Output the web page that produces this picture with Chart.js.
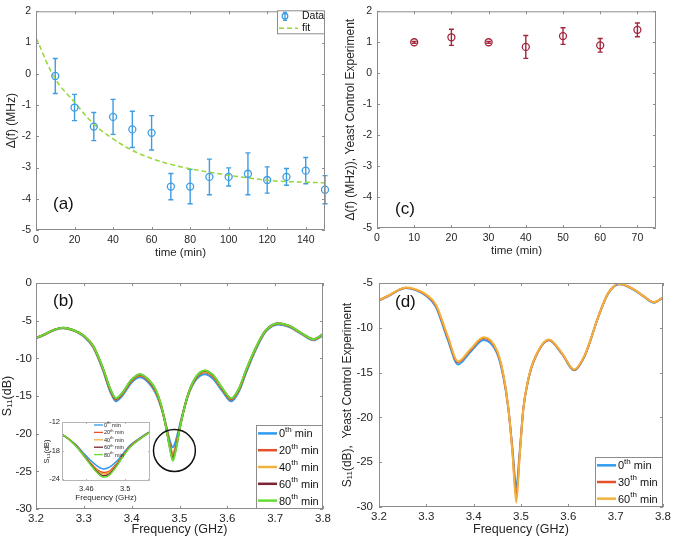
<!DOCTYPE html>
<html>
<head>
<meta charset="utf-8">
<title>Yeast S11 panels</title>
<script src="https://cdn.jsdelivr.net/npm/chart.js"></script>
<style>
  body { margin: 0; background: #fff; }
  #wrap { position: relative; width: 674px; height: 540px; }
  canvas { position: absolute; }
</style>
</head>
<body>
<div id="wrap">
  <canvas id="chartA" width="337" height="270" style="left:0;top:0"></canvas>
  <canvas id="chartC" width="337" height="270" style="left:337px;top:0"></canvas>
  <canvas id="chartB" width="337" height="270" style="left:0;top:270px"></canvas>
  <canvas id="chartD" width="337" height="270" style="left:337px;top:270px"></canvas>
  <canvas id="chartIn" width="120" height="95" style="left:38px;top:412px"></canvas>
</div>

<script>
// ---- panel (a): frequency shift vs time ----
const aTime = [10, 20, 30, 40, 50, 60, 70, 80, 90, 100, 110, 120, 130, 140, 150];
const aShift = [-0.07, -1.08, -1.69, -1.38, -1.78, -1.89, -3.61, -3.61, -3.3, -3.3, -3.2, -3.4, -3.3, -3.1, -3.71];
const aErr = [0.56, 0.42, 0.45, 0.56, 0.58, 0.55, 0.42, 0.55, 0.57, 0.29, 0.67, 0.42, 0.27, 0.42, 0.45];
const aFitTime = [0, 10, 20, 30, 40, 50, 60, 70, 80, 90, 100, 110, 120, 130, 140, 150];
const aFit = [1.15, -0.16, -0.91, -1.61, -2.08, -2.45, -2.71, -2.9, -3.04, -3.15, -3.25, -3.33, -3.41, -3.45, -3.47, -3.49];
const aTicksX = [0, 20, 40, 60, 80, 100, 120, 140];
const aTicksY = [-5, -4, -3, -2, -1, 0, 1, 2];

// ---- panel (c): yeast control ----
const cTime = [10, 20, 30, 40, 50, 60, 70];
const cShift = [1.0, 1.16, 1.0, 0.85, 1.2, 0.9, 1.4];
const cErr = [0.03, 0.26, 0.03, 0.37, 0.27, 0.22, 0.22];
const cTicksX = [0, 10, 20, 30, 40, 50, 60, 70];
const cTicksY = [-5, -4, -3, -2, -1, 0, 1, 2];

// ---- panel (b): S11 during experiment ----
const bLabels = ['0', '20', '40', '60', '80'];
const bColors = ['#2f9bf0', '#e5502a', '#f2b13a', '#7a2434', '#66dc34'];
const bFreq = [3.2, 3.22, 3.24, 3.257, 3.28, 3.3, 3.32, 3.34, 3.355, 3.367, 3.38, 3.4, 3.417, 3.435, 3.45, 3.462, 3.472, 3.48, 3.486, 3.492, 3.5, 3.51, 3.52, 3.535, 3.553, 3.57, 3.59, 3.608, 3.625, 3.64, 3.66, 3.68, 3.707, 3.73, 3.755, 3.78, 3.8];
const bMin0 = [-7.35, -6.8, -6.2, -6.0, -6.35, -7.1, -8.6, -11.6, -14.4, -15.7, -15.0, -13.2, -12.5, -13.2, -14.6, -16.6, -18.9, -21.0, -21.8, -21.0, -19.0, -16.6, -14.6, -12.8, -12.1, -12.7, -14.4, -15.7, -14.3, -11.8, -8.8, -6.5, -5.5, -5.85, -6.8, -7.6, -6.95];
const bMin20 = [-7.32, -6.77, -6.17, -5.97, -6.32, -7.05, -8.5, -11.45, -14.2, -15.5, -14.8, -13.0, -12.3, -13.0, -14.4, -16.5, -19.0, -21.5, -22.7, -21.7, -19.3, -16.6, -14.5, -12.6, -11.85, -12.45, -14.2, -15.5, -14.1, -11.6, -8.65, -6.4, -5.42, -5.77, -6.72, -7.52, -6.87];
const bMin40 = [-7.32, -6.76, -6.16, -5.96, -6.31, -7.03, -8.45, -11.4, -14.1, -15.4, -14.7, -12.9, -12.2, -12.9, -14.3, -16.4, -19.1, -21.7, -23.0, -21.9, -19.4, -16.6, -14.45, -12.5, -11.75, -12.35, -14.1, -15.4, -14.0, -11.5, -8.6, -6.35, -5.38, -5.73, -6.68, -7.48, -6.83];
const bMin60 = [-7.3, -6.75, -6.15, -5.95, -6.3, -7.0, -8.4, -11.35, -14.05, -15.35, -14.65, -12.85, -12.15, -12.85, -14.2, -16.35, -19.15, -21.85, -23.3, -22.1, -19.45, -16.6, -14.4, -12.45, -11.65, -12.25, -14.05, -15.35, -13.95, -11.45, -8.55, -6.3, -5.35, -5.7, -6.65, -7.45, -6.8];
const bMin80 = [-7.3, -6.75, -6.15, -5.95, -6.3, -7.0, -8.4, -11.3, -14.0, -15.3, -14.6, -12.8, -12.1, -12.8, -14.1, -16.3, -19.2, -22.0, -23.6, -22.3, -19.5, -16.6, -14.4, -12.4, -11.6, -12.2, -14.0, -15.3, -13.9, -11.4, -8.5, -6.3, -5.35, -5.7, -6.65, -7.45, -6.8];
const bTicksX = [3.2, 3.3, 3.4, 3.5, 3.6, 3.7, 3.8];
const bTickLabelsX = ['3.2', '3.3', '3.4', '3.5', '3.6', '3.7', '3.8'];
const bTicksY = [-30, -25, -20, -15, -10, -5, 0];
const bCircle = { x: 3.4894, y: -22.24, rx: 0.0438 };

// ---- inset of (b): notch close-up ----
const inFreq = [3.435, 3.443, 3.4505, 3.457, 3.464, 3.471, 3.4777, 3.484, 3.4915, 3.498, 3.505, 3.515, 3.5256];
const inMin0 = [-14.6, -15.7, -17.0, -18.5, -20.0, -21.2, -21.9, -21.5, -20.2, -18.6, -16.9, -15.4, -14.0];
const inMin20 = [-14.6, -15.75, -17.15, -18.8, -20.5, -22.0, -22.6, -22.3, -20.7, -18.9, -17.1, -15.5, -14.05];
const inMin40 = [-14.6, -15.77, -17.2, -18.9, -20.65, -22.2, -22.9, -22.6, -20.9, -19.0, -17.2, -15.55, -14.07];
const inMin60 = [-14.6, -15.78, -17.25, -18.95, -20.75, -22.4, -23.3, -22.9, -21.05, -19.1, -17.25, -15.58, -14.08];
const inMin80 = [-14.6, -15.8, -17.3, -19.0, -20.9, -22.6, -23.6, -23.1, -21.2, -19.2, -17.3, -15.6, -14.1];
const inTicksX = [3.46, 3.5];
const inTickLabelsX = ['3.46', '3.5'];
const inTicksY = [-24, -18, -12];

// ---- panel (d): S11 yeast control ----
const dLabels = ['0', '30', '60'];
const dColors = ['#2f9bf0', '#e5502a', '#f2b13a'];
const dFreq = [3.2, 3.22, 3.24, 3.257, 3.28, 3.3, 3.32, 3.345, 3.367, 3.393, 3.421, 3.449, 3.462, 3.473, 3.482, 3.49, 3.497, 3.505, 3.515, 3.528, 3.559, 3.587, 3.612, 3.635, 3.663, 3.684, 3.708, 3.739, 3.76, 3.781, 3.8];
const dMin0 = [-6.95, -6.45, -5.85, -5.55, -5.85, -6.45, -7.65, -11.3, -14.1, -12.7, -11.35, -12.8, -15.3, -18.9, -23.5, -27.8, -24.0, -19.0, -15.9, -13.6, -11.4, -12.95, -14.75, -13.1, -8.85, -6.2, -5.15, -5.8, -6.55, -7.2, -6.65];
const dMin30 = [-6.92, -6.42, -5.82, -5.52, -5.8, -6.37, -7.5, -11.05, -13.85, -12.5, -11.15, -12.6, -15.1, -18.85, -23.8, -28.8, -24.3, -19.0, -15.85, -13.55, -11.35, -12.9, -14.7, -13.05, -8.8, -6.15, -5.1, -5.75, -6.5, -7.15, -6.6];
const dMin60 = [-6.9, -6.4, -5.8, -5.5, -5.75, -6.3, -7.4, -10.9, -13.75, -12.4, -11.05, -12.5, -15.0, -18.8, -24.0, -29.5, -24.5, -19.0, -15.8, -13.5, -11.3, -12.85, -14.65, -13.0, -8.8, -6.15, -5.1, -5.75, -6.5, -7.15, -6.6];
const dTicksY = [-30, -25, -20, -15, -10, -5];

const fontFam = "'Liberation Sans', Arial, sans-serif";
const ink = '#262626';
const boxGray = '#8c8c8c';

function pts(xs, ys) { return xs.map((x, i) => ({ x: x, y: ys[i] })); }

function linScale(o) {
  return {
    type: 'linear', position: o.pos, min: o.min, max: o.max, bounds: 'data',
    grid: { display: false, drawTicks: false },
    border: { display: false },
    ticks: {
      font: { family: fontFam, size: o.fs }, color: ink, padding: o.pad,
      maxRotation: 0, autoSkip: false,
      callback: (v, i) => o.labels ? o.labels[i] : String(o.ticks[i])
    },
    afterBuildTicks: s => { s.ticks = o.ticks.map(v => ({ value: v })); },
    afterFit: s => { if (o.pos === 'bottom') s.height = o.size; else s.width = o.size; },
    title: { display: true, text: o.title, font: { family: fontFam, size: o.ts }, color: ink, padding: o.tpad }
  };
}

function boxPlugin(tickLen, color) {
  return {
    id: 'box',
    afterDatasetsDraw(chart) {
      const { ctx, chartArea: a, scales: { x, y } } = chart;
      ctx.save();
      ctx.strokeStyle = color;
      ctx.lineWidth = 1;
      ctx.beginPath();
      ctx.rect(a.left + 0.5, a.top + 0.5, a.right - a.left - 1, a.bottom - a.top - 1);
      x.ticks.forEach(t => {
        const p = Math.round(x.getPixelForValue(t.value)) + 0.5;
        ctx.moveTo(p, a.bottom); ctx.lineTo(p, a.bottom - tickLen);
        ctx.moveTo(p, a.top); ctx.lineTo(p, a.top + tickLen);
      });
      y.ticks.forEach(t => {
        const p = Math.round(y.getPixelForValue(t.value)) + 0.5;
        ctx.moveTo(a.left, p); ctx.lineTo(a.left + tickLen, p);
        ctx.moveTo(a.right, p); ctx.lineTo(a.right - tickLen, p);
      });
      ctx.stroke();
      ctx.restore();
    }
  };
}

function errPlugin(xs, ys, es, color, cap) {
  return {
    id: 'err',
    beforeDatasetsDraw(chart) {
      const { ctx, scales: { x, y } } = chart;
      ctx.save();
      ctx.strokeStyle = color;
      ctx.lineWidth = 1.4;
      ctx.beginPath();
      xs.forEach((t, i) => {
        const px = x.getPixelForValue(t);
        const top = y.getPixelForValue(ys[i] + es[i]);
        const bot = y.getPixelForValue(ys[i] - es[i]);
        ctx.moveTo(px, top); ctx.lineTo(px, bot);
        ctx.moveTo(px - cap, top); ctx.lineTo(px + cap, top);
        ctx.moveTo(px - cap, bot); ctx.lineTo(px + cap, bot);
      });
      ctx.stroke();
      ctx.restore();
    }
  };
}

function tagPlugin(text, dx, dy) {
  return {
    id: 'tag',
    afterDraw(chart) {
      const { ctx, chartArea: a } = chart;
      ctx.save();
      ctx.font = '17px ' + fontFam;
      ctx.fillStyle = '#111';
      ctx.textBaseline = 'middle';
      ctx.fillText(text, a.left + dx, a.top + dy);
      ctx.restore();
    }
  };
}

// legend with "Nth min" entries and superscript th
function minLegend(labels, colors, w, h, fs, lineLen, lw, border) {
  return {
    id: 'minLegend',
    afterDraw(chart) {
      const { ctx, chartArea: a } = chart;
      const L = a.right - w, T = a.bottom - h;
      ctx.save();
      ctx.fillStyle = '#fff';
      ctx.fillRect(L, T, w, h);
      if (border) {
        ctx.strokeStyle = boxGray; ctx.lineWidth = 1;
        ctx.strokeRect(L + 0.5, T + 0.5, w - 1, h - 1);
      }
      const step = h / labels.length;
      labels.forEach((lab, i) => {
        const cy = T + step * (i + 0.5);
        ctx.strokeStyle = colors[i]; ctx.lineWidth = lw;
        ctx.beginPath(); ctx.moveTo(L + 2, cy); ctx.lineTo(L + 2 + lineLen, cy); ctx.stroke();
        ctx.fillStyle = '#111';
        ctx.textBaseline = 'middle';
        let tx = L + 4 + lineLen;
        ctx.font = fs + 'px ' + fontFam;
        ctx.fillText(lab, tx, cy + 1);
        tx += ctx.measureText(lab).width;
        ctx.font = Math.round(fs * 0.7) + 'px ' + fontFam;
        ctx.fillText('th', tx, cy - fs * 0.35);
        tx += ctx.measureText('th').width;
        ctx.font = fs + 'px ' + fontFam;
        ctx.fillText(' min', tx, cy + 1);
      });
      ctx.restore();
    }
  };
}

function inLegend(labels, colors) {
  return {
    id: 'inLegend',
    afterDraw(chart) {
      const { ctx, chartArea: a } = chart;
      ctx.save();
      labels.forEach((lab, i) => {
        const cy = a.top + 3 + i * 7.4;
        const L = a.left + 32;
        ctx.strokeStyle = colors[i]; ctx.lineWidth = 1.3;
        ctx.beginPath(); ctx.moveTo(L, cy); ctx.lineTo(L + 9, cy); ctx.stroke();
        ctx.fillStyle = '#222'; ctx.textBaseline = 'middle';
        ctx.font = '5.5px ' + fontFam;
        let tx = L + 10;
        ctx.fillText(lab, tx, cy + 0.5);
        tx += ctx.measureText(lab).width;
        ctx.font = '4px ' + fontFam;
        ctx.fillText('th', tx, cy - 1.8);
        tx += ctx.measureText('th').width;
        ctx.font = '5.5px ' + fontFam;
        ctx.fillText(' min', tx, cy + 0.5);
      });
      ctx.restore();
    }
  };
}

const legendA = {
  id: 'legendA',
  afterDraw(chart) {
    const { ctx, chartArea: a } = chart;
    const w = 48, h = 24, L = a.right - w, T = a.top - 1;
    ctx.save();
    ctx.fillStyle = '#fff'; ctx.fillRect(L, T, w, h);
    ctx.strokeStyle = boxGray; ctx.lineWidth = 1;
    ctx.strokeRect(L + 0.5, T + 0.5, w - 1, h - 1);
    const cx = L + 8, cy1 = T + 6, cy2 = T + 18;
    ctx.strokeStyle = '#3d9de3'; ctx.lineWidth = 1.3;
    ctx.beginPath();
    ctx.moveTo(cx, cy1 - 4); ctx.lineTo(cx, cy1 + 4);
    ctx.moveTo(cx - 2, cy1 - 4); ctx.lineTo(cx + 2, cy1 - 4);
    ctx.moveTo(cx - 2, cy1 + 4); ctx.lineTo(cx + 2, cy1 + 4);
    ctx.stroke();
    ctx.beginPath(); ctx.arc(cx, cy1, 2.8, 0, Math.PI * 2); ctx.stroke();
    ctx.strokeStyle = '#96d63a'; ctx.lineWidth = 1.5;
    ctx.setLineDash([5, 3]);
    ctx.beginPath(); ctx.moveTo(L + 2, cy2); ctx.lineTo(L + 21, cy2); ctx.stroke();
    ctx.setLineDash([]);
    ctx.fillStyle = '#111'; ctx.font = '10.5px ' + fontFam; ctx.textBaseline = 'middle';
    ctx.fillText('Data', L + 25, cy1);
    ctx.fillText('fit', L + 25, cy2);
    ctx.restore();
  }
};

const circleB = {
  id: 'circleB',
  afterDatasetsDraw(chart) {
    const { ctx, scales: { x, y } } = chart;
    const cx = x.getPixelForValue(bCircle.x), cy = y.getPixelForValue(bCircle.y);
    const r = x.getPixelForValue(bCircle.x + bCircle.rx) - cx;
    ctx.save();
    ctx.strokeStyle = '#111'; ctx.lineWidth = 1.5;
    ctx.beginPath(); ctx.arc(cx, cy, r, 0, Math.PI * 2); ctx.stroke();
    ctx.restore();
  }
};

const base = { responsive: false, animation: false, devicePixelRatio: 1 };

// later series drawn on top (as in the original plot order)
function lineSets(xs, series, colors, labels, width) {
  return series.map((s, i) => ({
    label: labels[i], data: pts(xs, s), borderColor: colors[i], borderWidth: width,
    pointRadius: 0, showLine: true, cubicInterpolationMode: 'monotone', fill: false,
    order: series.length - i
  }));
}

// (a)
new Chart(document.getElementById('chartA'), {
  type: 'scatter',
  data: {
    datasets: [
      { label: 'Data', data: pts(aTime, aShift), borderColor: '#3d9de3', backgroundColor: 'rgba(0,0,0,0)',
        pointRadius: 3.5, borderWidth: 1.3, showLine: false, clip: false },
      { label: 'fit', data: pts(aFitTime, aFit), borderColor: '#96d63a', borderWidth: 1.5, borderDash: [5, 3],
        pointRadius: 0, showLine: true, tension: 0.4 }
    ]
  },
  options: Object.assign({}, base, {
    layout: { padding: { top: 8, right: 12, left: 0, bottom: 0 } },
    plugins: { legend: { display: false }, tooltip: { enabled: false } },
    scales: {
      x: linScale({ pos: 'bottom', min: 0, max: 150, ticks: aTicksX, fs: 10.5, pad: 4, size: 40, title: 'time (min)', ts: 11.5, tpad: { top: 0, bottom: 10 } }),
      y: linScale({ pos: 'left', min: -5, max: 2, ticks: aTicksY, fs: 10.5, pad: 5, size: 36, title: 'Δ(f) (MHz)', ts: 12, tpad: { top: 4, bottom: 0 } })
    }
  }),
  plugins: [errPlugin(aTime, aShift, aErr, '#3d9de3', 2.5), boxPlugin(3, boxGray), legendA, tagPlugin('(a)', 17, 193)]
});

// (c)
new Chart(document.getElementById('chartC'), {
  type: 'scatter',
  data: {
    datasets: [
      { label: 'control', data: pts(cTime, cShift), borderColor: '#a3263c', backgroundColor: 'rgba(0,0,0,0)',
        pointRadius: 3.5, borderWidth: 1.3, showLine: false }
    ]
  },
  options: Object.assign({}, base, {
    layout: { padding: { top: 8, right: 18, left: 0, bottom: 0 } },
    plugins: { legend: { display: false }, tooltip: { enabled: false } },
    scales: {
      x: linScale({ pos: 'bottom', min: 0, max: 75, ticks: cTicksX, fs: 10.5, pad: 4, size: 42, title: 'time (min)', ts: 11.5, tpad: { top: 0, bottom: 12 } }),
      y: linScale({ pos: 'left', min: -5, max: 2, ticks: cTicksY, fs: 10.5, pad: 5, size: 40, title: 'Δ(f) (MHz)), Yeast Control Experiment', ts: 12, tpad: { top: 6, bottom: 0 } })
    }
  }),
  plugins: [errPlugin(cTime, cShift, cErr, '#a3263c', 2.5), boxPlugin(3, boxGray), tagPlugin('(c)', 18, 198)]
});

// (b)
new Chart(document.getElementById('chartB'), {
  type: 'scatter',
  data: { datasets: lineSets(bFreq, [bMin0, bMin20, bMin40, bMin60, bMin80], bColors, bLabels, 2) },
  options: Object.assign({}, base, {
    layout: { padding: { top: 13, right: 14, left: 0, bottom: 0 } },
    plugins: { legend: { display: false }, tooltip: { enabled: false } },
    scales: {
      x: linScale({ pos: 'bottom', min: 3.2, max: 3.8, ticks: bTicksX, labels: bTickLabelsX, fs: 11.5, pad: 3, size: 31, title: 'Frequency (GHz)', ts: 12.5, tpad: { top: 0, bottom: 3 } }),
      y: linScale({ pos: 'left', min: -30, max: 0, ticks: bTicksY, fs: 11.5, pad: 4, size: 36, title: 'S₁₁(dB)', ts: 12.5, tpad: { top: 0, bottom: 0 } })
    }
  }),
  plugins: [boxPlugin(3, boxGray), circleB, minLegend(bLabels, bColors, 67, 84, 11, 19, 2.5, true), tagPlugin('(b)', 17, 18)]
});

// inset
new Chart(document.getElementById('chartIn'), {
  type: 'scatter',
  data: { datasets: lineSets(inFreq, [inMin0, inMin20, inMin40, inMin60, inMin80], bColors, bLabels, 1.5) },
  options: Object.assign({}, base, {
    layout: { padding: { top: 10, right: 8, left: 0, bottom: 0 } },
    plugins: { legend: { display: false }, tooltip: { enabled: false } },
    scales: {
      x: linScale({ pos: 'bottom', min: 3.435, max: 3.5256, ticks: inTicksX, labels: inTickLabelsX, fs: 7.5, pad: 3, size: 26, title: 'Frequency (GHz)', ts: 8, tpad: { top: 0, bottom: 4 } }),
      y: linScale({ pos: 'left', min: -24.4, max: -12, ticks: inTicksY, fs: 7.5, pad: 2, size: 24, title: 'S₁₁(dB)', ts: 7.5, tpad: { top: 4, bottom: 0 } })
    }
  }),
  plugins: [boxPlugin(2, '#b5b5b5'), inLegend(bLabels, bColors)]
});

// (d)
new Chart(document.getElementById('chartD'), {
  type: 'scatter',
  data: { datasets: lineSets(dFreq, [dMin0, dMin30, dMin60], dColors, dLabels, 2) },
  options: Object.assign({}, base, {
    layout: { padding: { top: 13, right: 8, left: 0, bottom: 0 } },
    plugins: { legend: { display: false }, tooltip: { enabled: false } },
    scales: {
      x: linScale({ pos: 'bottom', min: 3.2, max: 3.8, ticks: bTicksX, labels: bTickLabelsX, fs: 11.5, pad: 3, size: 33, title: 'Frequency (GHz)', ts: 12.5, tpad: { top: 0, bottom: 3 } }),
      y: linScale({ pos: 'left', min: -30, max: -5, ticks: dTicksY, fs: 11.5, pad: 6, size: 42, title: 'S₁₁(dB),  Yeast Control Experiment', ts: 12, tpad: { top: 3, bottom: 0 } })
    }
  }),
  plugins: [boxPlugin(3, boxGray), minLegend(dLabels, dColors, 68, 50, 11, 19, 2.5, true), tagPlugin('(d)', 16, 19)]
});
</script>
</body>
</html>
